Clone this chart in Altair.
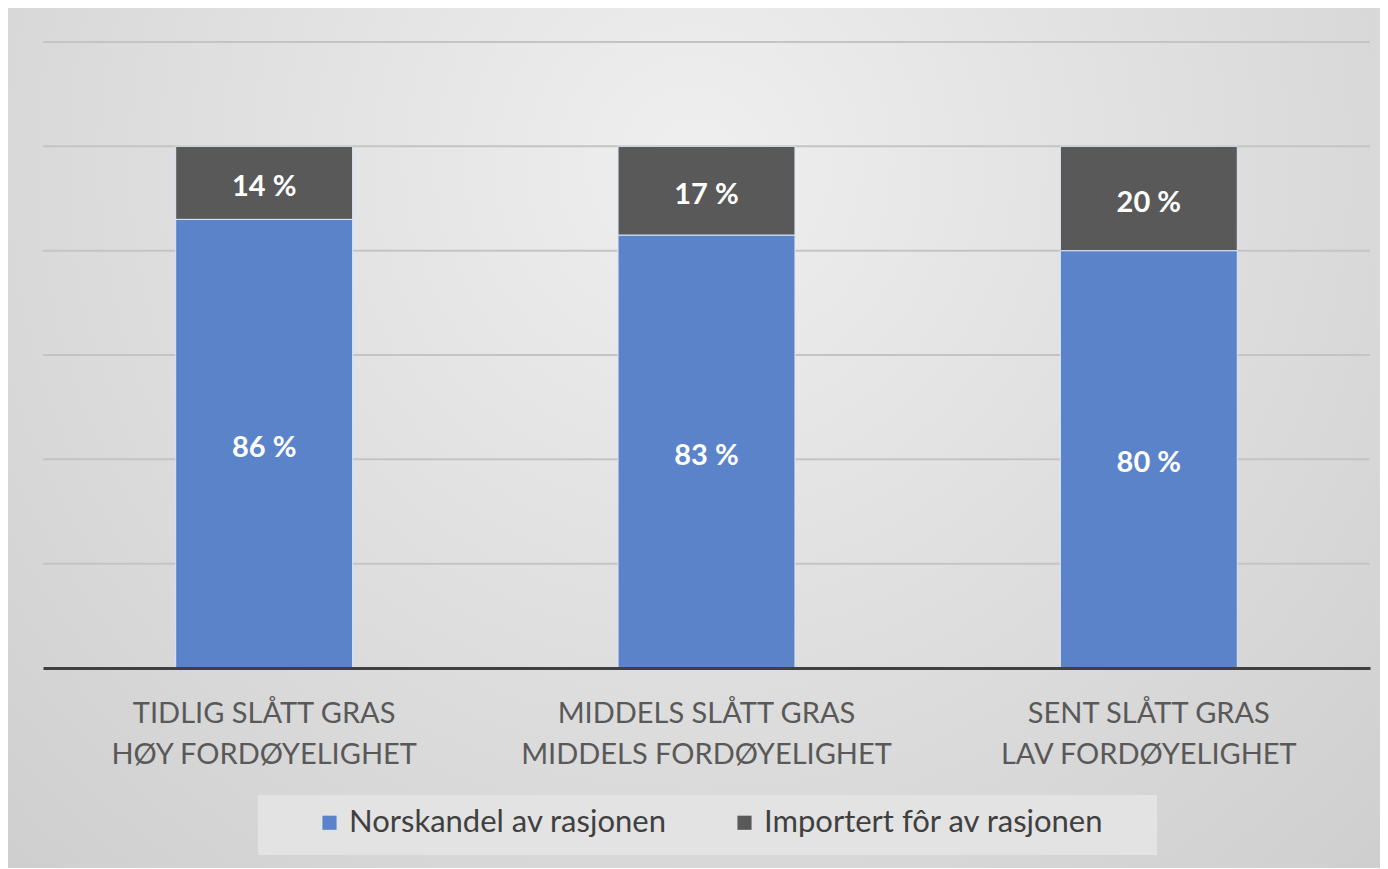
import altair as alt
import pandas as pd

categories = [
    "TIDLIG SLÅTT GRAS|HØY FORDØYELIGHET",
    "MIDDELS SLÅTT GRAS|MIDDELS FORDØYELIGHET",
    "SENT SLÅTT GRAS|LAV FORDØYELIGHET",
]
series = ["Norskandel av rasjonen", "Importert fôr av rasjonen"]
norsk = [86, 83, 80]
importert = [14, 17, 20]
grid_ticks = [20, 40, 60, 80, 100, 120]
colors = ["#5b83c9", "#595959"]

rows = []
for i, c in enumerate(categories):
    rows.append({"kategori": c, "serie": series[0], "verdi": norsk[i], "rekke": 0})
    rows.append({"kategori": c, "serie": series[1], "verdi": importert[i], "rekke": 1})
df = pd.DataFrame(rows)
grid_df = pd.DataFrame({"g": grid_ticks})

W, H = 1327, 626
FONT = "Lato"

yscale = alt.Scale(domain=[0, 120], nice=False, zero=True)
xenc = alt.X(
    "kategori:N",
    sort=categories,
    title=None,
    scale=alt.Scale(paddingInner=0.6, paddingOuter=0.3),
    axis=alt.Axis(
        labelExpr="split(datum.label, '|')",
        labelFont=FONT,
        labelFontSize=29,
        labelColor="#595959",
        labelLineHeight=41,
        labelPadding=31,
        labelAngle=0,
        labelLimit=0,
        ticks=False,
        domainColor="#404040",
        domainWidth=3,
        grid=False,
        zindex=1,
    ),
)

bg = alt.Chart(alt.Data(values=[{"a": 1}])).mark_rect(
    fill={
        "gradient": "radial",
        "x1": 0.5, "y1": 0.3, "r1": 0,
        "x2": 0.5, "y2": 0.3, "r2": 0.8,
        "stops": [
            {"offset": 0, "color": "#efefef"},
            {"offset": 1, "color": "#cbcbcb"},
        ],
    }
).encode(
    x=alt.value(-35), x2=alt.value(W + 10), y=alt.value(-34), y2=alt.value(H + 200)
)

legend_box = alt.Chart(alt.Data(values=[{"a": 1}])).mark_rect(fill="#e3e3e3").encode(
    x=alt.value(215), x2=alt.value(1114), y=alt.value(753), y2=alt.value(813)
)

grid = alt.Chart(grid_df).mark_rule(color="#c4c4c4", strokeWidth=2).encode(
    y=alt.Y("g:Q", scale=yscale, axis=None),
    x=alt.value(0),
    x2=alt.value(W),
)

bars = alt.Chart(df).mark_bar(stroke="#dce7f7", strokeWidth=1).encode(
    x=xenc,
    y=alt.Y("sum(verdi):Q", scale=yscale, axis=None, stack="zero"),
    color=alt.Color(
        "serie:N",
        scale=alt.Scale(domain=series, range=colors),
        legend=alt.Legend(
            title=None,
            orient="none",
            legendX=271,
            legendY=765,
            direction="horizontal",
            padding=0,
            symbolType="square",
            symbolSize=200,
            symbolStrokeWidth=0,
            labelFont=FONT,
            labelFontSize=31,
            labelColor="#404040",
            labelOffset=4,
            columnPadding=62,
            labelLimit=600,
        ),
    ),
    order=alt.Order("rekke:Q", sort="ascending"),
)

labels = alt.Chart(df).transform_stack(
    stack="verdi", groupby=["kategori"], as_=["y0", "y1"],
    sort=[alt.SortField("rekke", order="ascending")],
).transform_calculate(
    mid="(datum.y0 + datum.y1) / 2",
    lab="datum.verdi + ' %'",
).mark_text(
    font=FONT, fontSize=29, fontWeight="bold", color="white", baseline="middle", dy=4
).encode(
    x=alt.X("kategori:N", sort=categories),
    y=alt.Y("mid:Q", scale=yscale, axis=None),
    text="lab:N",
)

chart = alt.layer(bg, legend_box, grid, bars, labels).properties(
    width=W,
    height=H,
    padding={"left": 35, "top": 34, "right": 10, "bottom": 200},
    autosize=alt.AutoSizeParams(type="none"),
).configure_view(stroke=None).configure(background="#dadada")

chart.save("out.html", embed_options={"renderer": "svg", "actions": False})
